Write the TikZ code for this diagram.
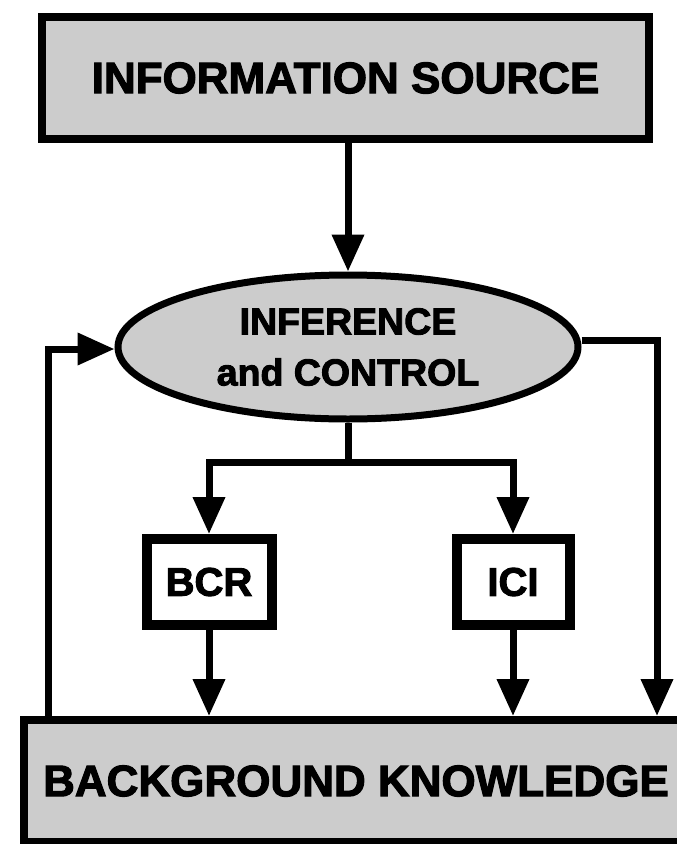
\documentclass[tikz,border=0pt]{standalone}
\usepackage{fontspec}
\newfontfamily\heavy{Liberation Sans}[UprightFont={* Bold}, UprightFeatures={FakeBold=2.5}]
\usetikzlibrary{arrows.meta,shapes.geometric}

\begin{document}
\begin{tikzpicture}[x=1pt,y=-1pt,
  panel/.style={draw, line width=8pt, fill=black!20, inner sep=0pt},
  toolbox/.style={draw, line width=10pt, fill=white, inner sep=0pt,
    minimum height=86pt, font={\heavy\fontsize{40}{40}\selectfont}},
  flow/.style={line width=7pt, -{Triangle[length=37pt,width=31pt]}},
  link/.style={line width=7pt}]
\useasboundingbox (0,0) rectangle (677,844);

% source and knowledge panels
\node[panel, minimum width=607pt, minimum height=122pt,
  font={\heavy\fontsize{44}{44}\selectfont}] (src) at (345.5,78) {INFORMATION SOURCE};
\node[panel, minimum width=664pt, minimum height=122pt,
  font={\heavy\fontsize{44}{44}\selectfont}] (bk) at (356,781) {BACKGROUND KNOWLEDGE};

% inference engine
\node[ellipse, draw, line width=7pt, fill=black!20, inner sep=0pt,
  minimum width=460pt, minimum height=144pt, align=center,
  font={\heavy\fontsize{37.5}{51}\selectfont}] (inf) at (348,347) {INFERENCE\\and CONTROL};

% the two tools
\node[toolbox, minimum width=125pt] (bcr) at (209,582) {BCR};
\node[toolbox, minimum width=113pt] (ici) at (513,582) {ICI};

% routing points
\coordinate (lf) at (48,349);
\coordinate (rt) at (657,340);
\coordinate (split) at (348,462);

% connectors
\draw[flow] (inf.north |- src.south) -- (inf.north);
\draw[flow] (lf |- bk.north) -- (lf) -- (inf.west |- lf);
\draw[flow] (inf.east |- rt) -- (rt) -- (rt |- bk.north);
\draw[link] (inf.south) -- (split);
\draw[flow] (split) -| (bcr.north);
\draw[flow] (split) -| (ici.north);
\draw[flow] (bcr.south) -- (bcr.south |- bk.north);
\draw[flow] (ici.south) -- (ici.south |- bk.north);
\end{tikzpicture}
\end{document}
